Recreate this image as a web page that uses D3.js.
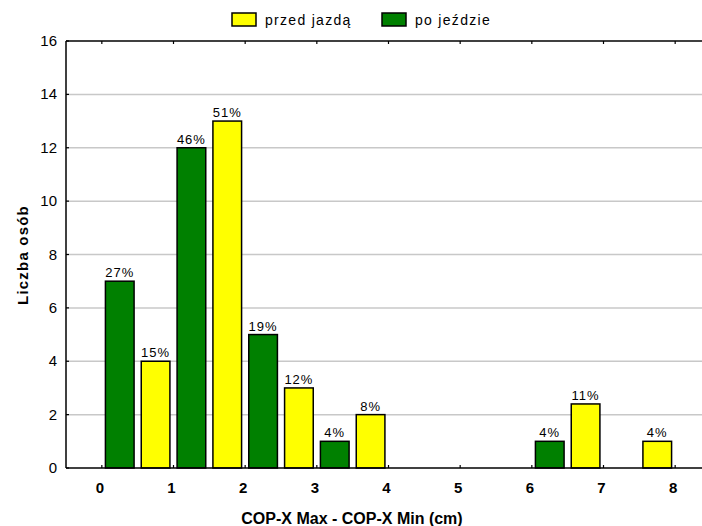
<!DOCTYPE html>
<html><head><meta charset="utf-8">
<script src="https://cdn.jsdelivr.net/npm/d3@7"></script>
<style>body{margin:0;background:#fff}svg{display:block}text{font-family:Arial,"Liberation Sans",sans-serif}</style>
</head><body>
<script>
// Data
const bins = [0,1,2,3,4,5,6,7];
const seriesNames = ["przed jazdą","po jeździe"];
const seriesColors = ["#ffff00","#008000"];
const przedValues = [4, 13, 3, 2, 0, 0, 2.4, 1];
const przedLabels = ["15%","51%","12%","8%","","","11%","4%"];
const poValues = [7, 12, 5, 1, 0, 0, 1, 0];
const poLabels = ["27%","46%","19%","4%","","","4%",""];
const xTicks = [0,1,2,3,4,5,6,7,8];
const yTicks = [0,2,4,6,8,10,12,14,16];

const W=702,H=526;
const svg=d3.select("body").append("svg").attr("width",W).attr("height",H);
const x=d3.scaleLinear().domain([-0.5,8.5]).range([66,711]);
const y=d3.scaleLinear().domain([0,16]).range([468,41]);

// gridlines
svg.append("g").selectAll("line").data(yTicks.filter(d=>d>0&&d<16)).join("line")
  .attr("x1",66).attr("x2",W).attr("y1",d=>y(d)).attr("y2",d=>y(d))
  .attr("stroke","#c8c8c8").attr("stroke-width",1.5);

// bars
const bw=0.4;
const poData=bins.map((b,i)=>({b,v:poValues[i],l:poLabels[i],off:0.05,c:seriesColors[1]})).filter(d=>d.v>0);
const przedData=bins.map((b,i)=>({b,v:przedValues[i],l:przedLabels[i],off:0.55,c:seriesColors[0]})).filter(d=>d.v>0);
const all=poData.concat(przedData);
svg.append("g").selectAll("rect").data(all).join("rect")
  .attr("x",d=>x(d.b+d.off)).attr("width",d=>x(d.b+d.off+bw)-x(d.b+d.off))
  .attr("y",d=>y(d.v)).attr("height",d=>y(0)-y(d.v))
  .attr("fill",d=>d.c).attr("stroke","#000").attr("stroke-width",1.5);
svg.append("g").selectAll("text").data(all).join("text")
  .attr("x",d=>x(d.b+d.off+bw/2)).attr("y",d=>y(d.v)-4)
  .attr("text-anchor","middle").attr("font-size",13).attr("letter-spacing",1)
  .attr("fill","#000").text(d=>d.l);

// axes lines
svg.append("line").attr("x1",66).attr("x2",W).attr("y1",41).attr("y2",41).attr("stroke","#000").attr("stroke-width",1.5);
svg.append("line").attr("x1",66).attr("x2",W).attr("y1",468).attr("y2",468).attr("stroke","#000").attr("stroke-width",1.5);
svg.append("line").attr("x1",66).attr("x2",66).attr("y1",41).attr("y2",468).attr("stroke","#000").attr("stroke-width",1.5);

// top ticks
svg.append("g").selectAll("line").data(xTicks).join("line")
  .attr("x1",d=>x(d)).attr("x2",d=>x(d)).attr("y1",41).attr("y2",44)
  .attr("stroke","#000").attr("stroke-width",1.2);
// bottom ticks
svg.append("g").selectAll("line").data(xTicks).join("line")
  .attr("x1",d=>x(d)).attr("x2",d=>x(d)).attr("y1",468).attr("y2",465)
  .attr("stroke","#000").attr("stroke-width",1.2);
// left ticks
svg.append("g").selectAll("line").data(yTicks).join("line")
  .attr("x1",66).attr("x2",69).attr("y1",d=>y(d)).attr("y2",d=>y(d))
  .attr("stroke","#000").attr("stroke-width",1.2);

// y tick labels
svg.append("g").selectAll("text").data(yTicks).join("text")
  .attr("x",57).attr("y",d=>y(d)+5).attr("text-anchor","end")
  .attr("font-size",15).attr("fill","#000").text(d=>d);
// x tick labels
svg.append("g").selectAll("text").data(xTicks).join("text")
  .attr("x",d=>x(d)-2).attr("y",493).attr("text-anchor","middle")
  .attr("font-size",15).attr("font-weight","bold").attr("fill","#000").text(d=>d);

// axis titles
svg.append("text").attr("x",352).attr("y",524).attr("text-anchor","middle")
  .attr("font-size",16).attr("font-weight","bold").text("COP-X Max - COP-X Min (cm)");
svg.append("text").attr("transform","translate(28,255) rotate(-90)").attr("text-anchor","middle")
  .attr("font-size",15).attr("font-weight","bold").attr("letter-spacing",1.2).text("Liczba osób");

// legend
const leg=[{n:seriesNames[0],c:seriesColors[0],x:232},{n:seriesNames[1],c:seriesColors[1],x:382}];
const lg=svg.append("g").selectAll("g").data(leg).join("g").attr("transform",d=>`translate(${d.x},13)`);
lg.append("rect").attr("width",24).attr("height",13).attr("fill",d=>d.c).attr("stroke","#000").attr("stroke-width",1.5);
lg.append("text").attr("x",33).attr("y",12).attr("font-size",14).attr("letter-spacing",1.3).text(d=>d.n);
</script>
</body></html>
